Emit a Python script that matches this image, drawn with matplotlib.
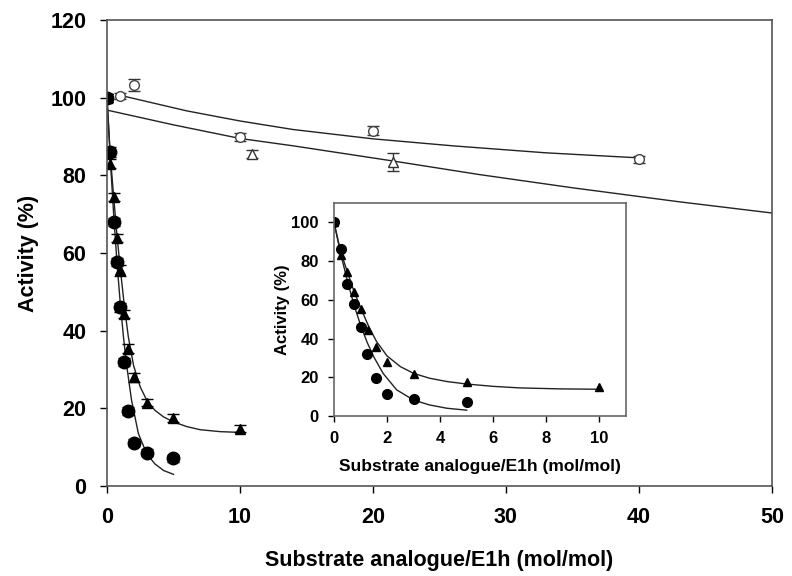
import matplotlib
matplotlib.use("Agg")
import matplotlib.pyplot as plt

plt.rcParams['font.family'] = ['Liberation Sans', 'DejaVu Sans']
plt.rcParams['font.weight'] = 'bold'

# filled circles / filled triangles (steep inhibition)
fc_x = [0, 0.25, 0.5, 0.75, 1, 1.25, 1.6, 2, 3, 5]
fc_y = [100, 86, 68, 57.6, 46, 32, 19.4, 11.2, 8.6, 7.1]
fc_err = [1, 1.2, 1, 1, 1.2, 1, 1, 1, 1, 0.8]
ft_x = [0, 0.25, 0.5, 0.75, 1, 1.3, 1.6, 2, 3, 5, 10]
ft_y = [100, 83, 74.4, 63.8, 55.5, 44.3, 35.4, 28, 21.5, 17.5, 14.8]
ft_err = [1, 1.2, 1, 1, 1.3, 1, 1.2, 1.2, 1, 1, 0.8]

# open circles / open triangles (weak inhibition)
oc_x = [0, 1, 2, 10, 20, 40]
oc_y = [100, 100.5, 103.3, 89.8, 91.5, 84.1]
oc_err = [1, 0.8, 1.6, 1, 1.2, 0.8]
ot_x = [0, 10.9, 21.5]
ot_y = [100, 85.5, 83.5]
ot_err = [1, 1, 2.3]

# fitted curves
fit_c_x = [0, 0.25, 0.5, 0.75, 1, 1.25, 1.5, 1.85, 2.36, 3, 3.6, 4.25, 5]
fit_c_y = [100, 84, 70, 57.5, 47, 38, 30.5, 22, 13.5, 8.2, 5.7, 4.0, 3.0]
fit_t_x = [0, 0.25, 0.5, 0.75, 1, 1.3, 1.6, 2, 2.5, 3, 3.6, 4.25, 5, 6, 7, 8.5, 10]
fit_t_y = [100, 85, 74.5, 64.5, 56, 46.5, 38.5, 31, 25.5, 22, 19.5, 17.8, 16.5, 15.3, 14.5, 14, 13.8]
fit_oc_x = [1, 3, 6, 10, 14, 20, 26, 33, 40]
fit_oc_y = [100.6, 99.0, 96.6, 94.0, 91.8, 89.4, 87.6, 85.8, 84.5]
fit_ot_x = [0, 5, 10, 14, 21.5, 28, 35, 43, 50]
fit_ot_y = [96.8, 93, 89.5, 87.6, 83.7, 80.2, 76.8, 73.2, 70.3]

xlab = "Substrate analogue/E1h (mol/mol)"
ylab = "Activity (%)"

fig = plt.figure(figsize=(7.92, 5.76), dpi=100)
ax = fig.add_axes([0.1351, 0.15625, 0.8396, 0.8090])

lc = "#222222"
ax.plot(fit_c_x, fit_c_y, color=lc, lw=1.0)
ax.plot(fit_t_x, fit_t_y, color=lc, lw=1.0)
ax.plot(fit_oc_x, fit_oc_y, color=lc, lw=1.0)
ax.plot(fit_ot_x, fit_ot_y, color=lc, lw=1.0)

ax.errorbar(oc_x, oc_y, yerr=oc_err, fmt="o", ms=7, mfc="white", mec="#444444",
            mew=1.0, ecolor="#333333", elinewidth=1, capsize=4)
ax.errorbar(ot_x, ot_y, yerr=ot_err, fmt="^", ms=7, mfc="white", mec="#333333",
            mew=1.0, ecolor="#333333", elinewidth=1, capsize=4)
ax.errorbar(ft_x, ft_y, yerr=ft_err, fmt="^", ms=7.5, color="black",
            ecolor="black", elinewidth=1, capsize=4)
ax.errorbar(fc_x, fc_y, yerr=fc_err, fmt="o", ms=9, color="black",
            ecolor="black", elinewidth=1, capsize=4)

ax.set_xlim(0, 50)
ax.set_ylim(0, 120)
ax.set_xticks([0, 10, 20, 30, 40, 50])
ax.set_yticks([0, 20, 40, 60, 80, 100, 120])
ax.tick_params(direction="out", length=5, width=1, labelsize=15.5, pad=10)
ax.set_xlabel(xlab, fontsize=15.5, fontweight="bold", labelpad=16)
ax.set_ylabel(ylab, fontsize=15.5, fontweight="bold", labelpad=8)
for s in ax.spines.values():
    s.set_color("#555555")
    s.set_linewidth(1.2)

# inset
ins = fig.add_axes([0.4217, 0.2778, 0.3687, 0.3698])
ins.plot(fit_c_x, fit_c_y, color=lc, lw=1.0)
ins.plot(fit_t_x, fit_t_y, color=lc, lw=1.0)
ins.plot(ft_x, ft_y, "^", ms=6, color="black")
ins.plot(fc_x, fc_y, "o", ms=7, color="black")
ins.set_xlim(0, 11)
ins.set_ylim(0, 110)
ins.set_xticks([0, 2, 4, 6, 8, 10])
ins.set_yticks([0, 20, 40, 60, 80, 100])
ins.tick_params(direction="out", length=4, width=1, labelsize=12, pad=7)
ins.set_xlabel(xlab, fontsize=12.5, fontweight="bold", labelpad=9)
ins.set_ylabel(ylab, fontsize=12, fontweight="bold", labelpad=1)
for s in ins.spines.values():
    s.set_color("#666666")
    s.set_linewidth(1.2)

fig.savefig("out.png", dpi=100)
